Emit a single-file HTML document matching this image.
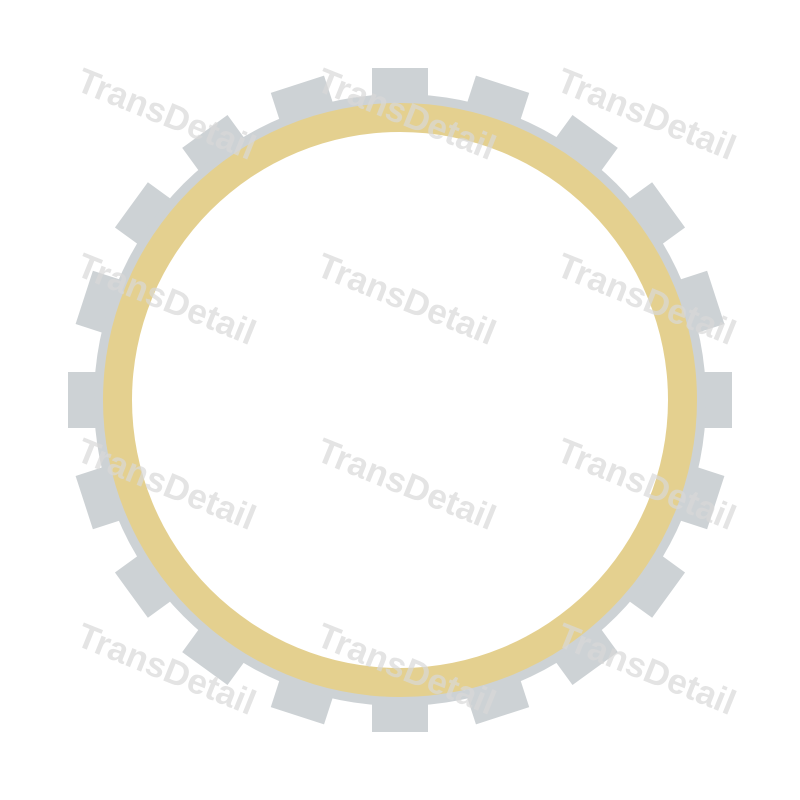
<!DOCTYPE html>
<html><head><style>body{margin:0;background:#fff}svg{display:block}</style></head><body>
<svg width="800" height="800" viewBox="0 0 800 800" xmlns="http://www.w3.org/2000/svg">
<defs>
<g id="tooth"><rect x="372" y="68" width="56" height="50" fill="#cdd2d5"/></g>
</defs>
<g>
<use href="#tooth" transform="rotate(0 400 400)"/><use href="#tooth" transform="rotate(18 400 400)"/><use href="#tooth" transform="rotate(36 400 400)"/><use href="#tooth" transform="rotate(54 400 400)"/><use href="#tooth" transform="rotate(72 400 400)"/><use href="#tooth" transform="rotate(90 400 400)"/><use href="#tooth" transform="rotate(108 400 400)"/><use href="#tooth" transform="rotate(126 400 400)"/><use href="#tooth" transform="rotate(144 400 400)"/><use href="#tooth" transform="rotate(162 400 400)"/><use href="#tooth" transform="rotate(180 400 400)"/><use href="#tooth" transform="rotate(198 400 400)"/><use href="#tooth" transform="rotate(216 400 400)"/><use href="#tooth" transform="rotate(234 400 400)"/><use href="#tooth" transform="rotate(252 400 400)"/><use href="#tooth" transform="rotate(270 400 400)"/><use href="#tooth" transform="rotate(288 400 400)"/><use href="#tooth" transform="rotate(306 400 400)"/><use href="#tooth" transform="rotate(324 400 400)"/><use href="#tooth" transform="rotate(342 400 400)"/>
</g>
<circle cx="400" cy="400" r="306" fill="#cdd2d5"/>
<circle cx="400" cy="400" r="297" fill="#e4d08f"/>
<circle cx="400" cy="400" r="268" fill="#fff"/>
<g font-family="Liberation Sans, sans-serif" font-weight="bold" font-size="35" fill="#d8d8d8" opacity="0.7">
<text x="162" y="125" text-anchor="middle" transform="rotate(22 162 125)">TransDetail</text>
<text x="402" y="125" text-anchor="middle" transform="rotate(22 402 125)">TransDetail</text>
<text x="642" y="125" text-anchor="middle" transform="rotate(22 642 125)">TransDetail</text>
<text x="162" y="310" text-anchor="middle" transform="rotate(22 162 310)">TransDetail</text>
<text x="402" y="310" text-anchor="middle" transform="rotate(22 402 310)">TransDetail</text>
<text x="642" y="310" text-anchor="middle" transform="rotate(22 642 310)">TransDetail</text>
<text x="162" y="495" text-anchor="middle" transform="rotate(22 162 495)">TransDetail</text>
<text x="402" y="495" text-anchor="middle" transform="rotate(22 402 495)">TransDetail</text>
<text x="642" y="495" text-anchor="middle" transform="rotate(22 642 495)">TransDetail</text>
<text x="162" y="680" text-anchor="middle" transform="rotate(22 162 680)">TransDetail</text>
<text x="402" y="680" text-anchor="middle" transform="rotate(22 402 680)">TransDetail</text>
<text x="642" y="680" text-anchor="middle" transform="rotate(22 642 680)">TransDetail</text>
</g>
</svg>
</body></html>
